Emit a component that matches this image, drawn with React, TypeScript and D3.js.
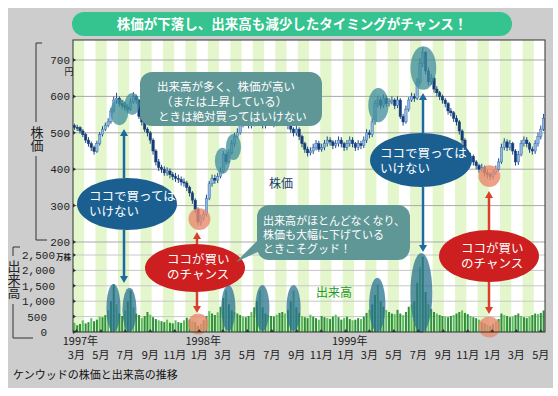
import React from 'react';
import * as d3 from 'd3';

// weekly data, first week starts 1997-02-24
const FIRST_WEEK = new Date(1997, 1, 24);
const firstOpen = 520;

const weeklyClose = [
  515, 514, 505, 495, 480, 470, 460, 449, 470, 495,
  510, 520, 530, 560, 590, 595, 580, 575, 570, 565,
  585, 600, 590, 545, 530, 510, 500, 480, 450, 420,
  405, 400, 390, 395, 385, 380, 375, 372, 365, 362,
  350, 335, 315, 290, 255, 265, 275, 320, 360, 375,
  370, 380, 395, 440, 420, 445, 470, 490, 500, 520,
  540, 530, 520, 525, 535, 545, 530, 520, 530, 540,
  535, 525, 530, 545, 540, 530, 520, 510, 500, 510,
  490, 470, 455, 445, 450, 460, 470, 455, 460, 470,
  480, 475, 465, 470, 480, 470, 460, 470, 480, 470,
  460, 470, 465, 480, 500, 495, 530, 580, 590, 575,
  595, 580, 585, 590, 575, 590, 545, 530, 565, 590,
  600, 595, 640, 690, 720, 670, 640, 650, 620, 610,
  600, 590, 580, 560, 555, 540, 530, 505, 480, 440,
  430, 435, 420, 410, 400, 405, 390, 385, 380, 390,
  400, 420, 460, 475, 460, 470, 450, 420, 440, 470,
  480, 470, 455, 450, 470, 490, 510, 540,
];

const weeklyHigh = [
  525, 522, 518, 510, 500, 488, 476, 465, 478, 502,
  518, 528, 540, 568, 600, 610, 600, 590, 585, 578,
  595, 612, 605, 592, 550, 535, 515, 505, 485, 455,
  428, 412, 408, 405, 402, 392, 390, 385, 380, 375,
  368, 355, 340, 320, 295, 275, 285, 330, 368, 385,
  385, 390, 405, 450, 445, 455, 480, 500, 512, 530,
  550, 548, 535, 535, 545, 555, 552, 538, 540, 550,
  548, 542, 540, 555, 552, 545, 535, 525, 515, 520,
  515, 495, 475, 462, 460, 470, 480, 478, 470, 480,
  490, 488, 480, 480, 490, 488, 475, 480, 490, 488,
  475, 480, 478, 490, 510, 508, 540, 590, 602, 598,
  605, 602, 595, 600, 595, 600, 595, 552, 575, 598,
  610, 608, 650, 705, 735, 725, 680, 662, 655, 628,
  615, 605, 595, 585, 568, 560, 548, 535, 510, 485,
  448, 445, 440, 425, 415, 415, 410, 398, 392, 398,
  410, 430, 470, 485, 482, 480, 475, 455, 450, 480,
  490, 488, 475, 462, 480, 500, 520, 552,
];

const weeklyLow = [
  508, 505, 498, 488, 472, 462, 450, 440, 445, 465,
  490, 505, 515, 525, 555, 580, 572, 565, 560, 555,
  560, 580, 580, 538, 520, 502, 490, 470, 440, 410,
  395, 390, 382, 382, 375, 370, 365, 362, 355, 352,
  340, 325, 305, 280, 245, 245, 258, 270, 315, 352,
  360, 362, 375, 390, 412, 415, 440, 462, 485, 495,
  515, 522, 512, 512, 518, 528, 522, 512, 512, 522,
  525, 515, 518, 522, 530, 520, 510, 500, 490, 492,
  480, 460, 445, 435, 438, 442, 452, 448, 448, 452,
  462, 465, 455, 458, 462, 460, 450, 452, 462, 460,
  450, 452, 455, 458, 472, 485, 488, 522, 570, 565,
  568, 572, 572, 578, 565, 568, 538, 520, 525, 558,
  585, 585, 590, 632, 680, 660, 630, 632, 610, 600,
  590, 580, 570, 550, 545, 530, 520, 495, 470, 430,
  420, 422, 410, 400, 390, 392, 380, 375, 370, 372,
  385, 395, 415, 452, 450, 452, 440, 410, 412, 435,
  462, 460, 445, 440, 442, 462, 482, 505,
];

// 万株
const weeklyVolume = [
  300, 220, 260, 380, 280, 320, 450, 350, 400, 500,
  480, 550, 700, 1000, 1550, 900, 600, 520, 700, 1000,
  1350, 800, 600, 550, 450, 520, 650, 560, 480, 420,
  380, 350, 320, 400, 300, 280, 380, 320, 300, 380,
  460, 400, 350, 320, 200, 260, 380, 520, 680, 600,
  550, 640, 820, 1100, 1350, 900, 700, 650, 600, 550,
  500, 480, 520, 650, 800, 1000, 1350, 800, 600, 550,
  520, 500, 560, 620, 650, 600, 720, 1000, 1350, 800,
  620, 520, 480, 450, 560, 500, 450, 400, 520, 480,
  450, 420, 500, 560, 480, 400, 450, 500, 420, 380,
  400, 450, 420, 500, 620, 720, 900, 1200, 1550, 1000,
  820, 720, 650, 600, 580, 720, 600, 550, 650, 820,
  900, 1000, 1600, 2100, 2450, 1300, 900, 750, 650, 600,
  550, 520, 500, 480, 520, 550, 600, 650, 700, 620,
  580, 520, 480, 450, 400, 320, 280, 240, 200, 260,
  340, 420, 600, 550, 520, 480, 500, 550, 600, 520,
  480, 450, 500, 550, 600, 580, 620, 700,
];

const priceTicks = [200, 300, 400, 500, 600, 700];
const volumeTicks = [0, 500, 1000, 1500, 2000, 2500];
const monthLabels = [
  '1997-03', '1997-05', '1997-07', '1997-09', '1997-11',
  '1998-01', '1998-03', '1998-05', '1998-07', '1998-09', '1998-11',
  '1999-01', '1999-03', '1999-05', '1999-07', '1999-09', '1999-11',
  '2000-01', '2000-03', '2000-05',
];
const yearLabels = [['1997-03', '1997年'], ['1998-01', '1998年'], ['1999-01', '1999年']];

// highlights: [week, value, halfWidthWeeks, halfHeightValue]
const hotPriceMarks = [
  [16.0, 557, 3.2, 36], [20.6, 579, 2.7, 30], [52.7, 423, 2.7, 36],
  [56.6, 461, 2.7, 36], [108.2, 576, 3.6, 47], [124.2, 678, 4.6, 60],
];
const hotVolumeMarks = [
  [13.9, 780, 2.5, 780], [19.6, 720, 2.5, 720], [54.8, 780, 2.5, 750],
  [66.9, 780, 2.5, 750], [78.0, 780, 2.5, 750], [107.8, 880, 2.9, 880],
  [123.5, 1266, 3.9, 1300],
];
const coldPriceMarks = [[44.5, 263, 3.9, 30], [147.7, 381, 3.9, 30]];
const coldVolumeMarks = [[44.1, 260, 3.7, 340], [147.7, 162, 3.9, 340]];

const JP = '"Noto Sans CJK JP", sans-serif';
const MONO = '"Liberation Mono", monospace';

const weekDate = (w: number) => new Date(FIRST_WEEK.getTime() + w * 7 * 864e5);
const parseMonth = (s: string) => {
  const [yy, mm] = s.split('-').map(Number);
  return new Date(yy, mm - 1, 1);
};

export default function App() {
  const n = weeklyClose.length;
  const x = d3.scaleTime().domain([weekDate(-0.5), weekDate(n - 0.5)]).range([73, 545]);
  const yP = d3.scaleLinear().domain([200, 700]).range([242, 60]);
  const yV = d3.scaleLinear().domain([0, 2500]).range([332, 255]);
  const wx = (w: number) => x(weekDate(w));

  const stripes: number[] = [];
  for (let s = -1; s < n; s += 8) stripes.push(s);

  const candles = weeklyClose.map((c, i) => {
    const o = i === 0 ? firstOpen : weeklyClose[i - 1];
    return { i, o, c, h: weeklyHigh[i], l: weeklyLow[i] };
  });

  const ell = (m: number[], y: d3.ScaleLinear<number, number>, key: string, fill: string, op: number) => (
    <ellipse key={key} cx={wx(m[0])} cy={y(m[1])} rx={wx(m[0] + m[2]) - wx(m[0])}
      ry={Math.abs(y(m[1] + m[3]) - y(m[1]))} fill={fill} opacity={op} />
  );

  const arrow = (xp: number, y1: number, y2: number, color: string, key: string) => {
    const dir = y2 < y1 ? -1 : 1;
    return (
      <g key={key}>
        <line x1={xp} x2={xp} y1={y1} y2={y2 - dir * 6} stroke={color} strokeWidth={2.5} />
        <path d={`M${xp - 4},${y2 - dir * 7}L${xp + 4},${y2 - dir * 7}L${xp},${y2}Z`} fill={color} />
      </g>
    );
  };

  const vertical = { writingMode: 'vertical-rl' as const };

  return (
    <svg width={558} height={396} style={{ position: 'absolute', left: 0, top: 0 }}>
      <rect x={0} y={0} width={558} height={396} fill="#fff" />
      <rect x={8} y={8} width={545} height={380} fill="#cdcdcd" />

      {/* title */}
      <rect x={72} y={12} width={440} height={24} rx={12} fill="#35c38f" />
      <text x={292} y={29} textAnchor="middle" fill="#fff" fontSize={13.5} fontWeight="bold" fontFamily={JP}>
        株価が下落し、出来高も減少したタイミングがチャンス！
      </text>

      {/* plot background */}
      <rect x={73} y={40} width={472} height={292} fill="#fff" />
      {stripes.map(s => (
        <rect key={s} x={Math.max(73, wx(s + 0.5))} y={40}
          width={Math.min(545, wx(s + 4.5)) - Math.max(73, wx(s + 0.5))} height={292} fill="#e4f6cb" />
      ))}
      {priceTicks.map(t => (
        <line key={'pg' + t} x1={73} x2={545} y1={yP(t)} y2={yP(t)} stroke="#a9a9a9" strokeWidth={1} />
      ))}
      {volumeTicks.slice(1).map(t => (
        <line key={'vg' + t} x1={73} x2={545} y1={yV(t)} y2={yV(t)} stroke="#c8c8c8" strokeWidth={1} />
      ))}

      {/* volume */}
      {weeklyVolume.map((v, i) => (
        <rect key={'v' + i} x={wx(i) - 1} y={yV(v)} width={2} height={yV(0) - yV(v)}
          fill={i % 3 === 0 ? '#5cbf5c' : '#2f8f3a'} />
      ))}

      {/* candles */}
      {candles.map(d => {
        const cx = wx(d.i);
        const up = d.c >= d.o;
        const top = yP(Math.max(d.o, d.c));
        const bot = yP(Math.min(d.o, d.c));
        return (
          <g key={'c' + d.i}>
            <line x1={cx} x2={cx} y1={yP(d.h)} y2={yP(d.l)} stroke="#1d4c86" strokeWidth={1} />
            <rect x={cx - 1.2} y={top} width={2.4} height={Math.max(1, bot - top)}
              fill={up ? '#8fb9e3' : '#173d78'} stroke={up ? '#3a6fb0' : '#173d78'} strokeWidth={0.5} />
          </g>
        );
      })}

      {/* highlight marks */}
      {hotPriceMarks.map((m, i) => ell(m, yP, 'hp' + i, '#3d8c98', 0.75))}
      {hotVolumeMarks.map((m, i) => ell(m, yV, 'hv' + i, '#2a7390', 0.75))}
      {coldPriceMarks.map((m, i) => ell(m, yP, 'cp' + i, '#e98a6c', 0.8))}
      {coldVolumeMarks.map((m, i) => ell(m, yV, 'cv' + i, '#e98a6c', 0.8))}

      <rect x={73} y={40} width={472} height={292} fill="none" stroke="#333" strokeWidth={1} />

      {/* left axis */}
      {priceTicks.map(t => (
        <g key={'pt' + t}>
          <text x={70} y={yP(t) + 4} textAnchor="end" fontSize={11} fontFamily={MONO} fill="#222">{t}</text>
          <path d={`M73,${yP(t) - 2}L76,${yP(t)}L73,${yP(t) + 2}Z`} fill="#333" />
        </g>
      ))}
      <text x={69} y={75} textAnchor="middle" fontSize={9} fontFamily={JP} fill="#222">円</text>
      {volumeTicks.map(t => (
        <g key={'vt' + t}>
          <text x={t >= 1000 ? 55 : 47} y={yV(t) + 4} textAnchor="end" fontSize={11} fontFamily={MONO} fill="#222">
            {d3.format(',')(t)}
          </text>
          <path d={`M73,${yV(t) - 2}L76,${yV(t)}L73,${yV(t) + 2}Z`} fill="#333" />
        </g>
      ))}
      <text x={56} y={260} fontSize={7.5} fontWeight="bold" fontFamily={JP} fill="#222">万株</text>

      {/* brackets */}
      <path d="M42,43H36V122M36,156V240H47" fill="none" stroke="#333" strokeWidth={1} />
      <text x={37} y={126} fontSize={13} fontFamily={JP} fill="#222" style={vertical}>株価</text>
      <path d="M20,247H13V256M13,304V338H33" fill="none" stroke="#333" strokeWidth={1} />
      <text x={14} y={260} fontSize={13} fontFamily={JP} fill="#222" style={vertical}>出来高</text>

      {/* x axis */}
      {monthLabels.map(s => {
        const d = parseMonth(s);
        const xp = x(d);
        return (
          <g key={s}>
            <path d={`M${xp - 2},332L${xp},329L${xp + 2},332Z`} fill="#333" />
            <text x={xp} y={359} textAnchor="middle" fontSize={11} fontFamily={JP} fill="#222">
              {d.getMonth() + 1}月
            </text>
          </g>
        );
      })}
      {yearLabels.map(([s, t]) => (
        <text key={t} x={x(parseMonth(s)) + 4} y={345} textAnchor="middle" fontSize={11} fontFamily={JP} fill="#222">{t}</text>
      ))}

      {/* inline labels */}
      <text x={281} y={188} textAnchor="middle" fontSize={12} fontFamily={JP} fill="#1b3d6e">株価</text>
      <text x={334} y={297} textAnchor="middle" fontSize={12} fontFamily={JP} fill="#1f9a2a">出来高</text>

      {/* arrows */}
      {arrow(124, 178, 129, '#1e6aa0', 'a1')}
      {arrow(124, 230, 283, '#1e6aa0', 'a2')}
      {arrow(423, 133, 93, '#1e6aa0', 'a3')}
      {arrow(423, 187, 252, '#1e6aa0', 'a4')}
      {arrow(197, 246, 232, '#d9402a', 'a5')}
      {arrow(197, 291, 313, '#d9402a', 'a6')}
      {arrow(489, 231, 191, '#d9402a', 'a7')}
      {arrow(489, 282, 314, '#d9402a', 'a8')}

      {/* callouts */}
      <ellipse cx={127} cy={204} rx={50} ry={26} fill="#1b5f91" />
      <text fontSize={12.5} fontFamily={JP} fill="#fff">
        <tspan x={89} y={201}>ココで買っては</tspan>
        <tspan x={89} y={216}>いけない</tspan>
      </text>
      <ellipse cx={421} cy={160} rx={51} ry={27} fill="#1b5f91" />
      <text fontSize={12.5} fontFamily={JP} fill="#fff">
        <tspan x={380} y={158}>ココで買っては</tspan>
        <tspan x={380} y={173}>いけない</tspan>
      </text>
      <ellipse cx={195} cy={268} rx={50} ry={24} fill="#cd1f1f" />
      <text fontSize={12.5} fontFamily={JP} fill="#fff">
        <tspan x={167} y={264}>ココが買い</tspan>
        <tspan x={167} y={279}>のチャンス</tspan>
      </text>
      <ellipse cx={489} cy={256} rx={50} ry={26} fill="#cd1f1f" />
      <text fontSize={12.5} fontFamily={JP} fill="#fff">
        <tspan x={461} y={253}>ココが買い</tspan>
        <tspan x={461} y={268}>のチャンス</tspan>
      </text>

      <rect x={140} y={72} width={182} height={54} rx={12} fill="#5f9797" />
      <text fontSize={11.5} fontFamily={JP} fill="#fff">
        <tspan x={157} y={91}>出来高が多く、株価が高い</tspan>
        <tspan x={161} y={106}>（または上昇している）</tspan>
        <tspan x={158} y={121}>ときは絶対買ってはいけない</tspan>
      </text>

      <path d="M262,236L236,262L262,250Z" fill="#5f9797" />
      <rect x={257} y={205} width={153} height={55} rx={12} fill="#5f9797" />
      <text fontSize={11} fontFamily={JP} fill="#fff">
        <tspan x={263} y={225}>出来高がほとんどなくなり、</tspan>
        <tspan x={263} y={239}>株価も大幅に下げている</tspan>
        <tspan x={263} y={253}>ときこそグッド！</tspan>
      </text>

      {/* caption */}
      <text x={13} y={379} fontSize={11} fontFamily={JP} fill="#111">ケンウッドの株価と出来高の推移</text>
    </svg>
  );
}
